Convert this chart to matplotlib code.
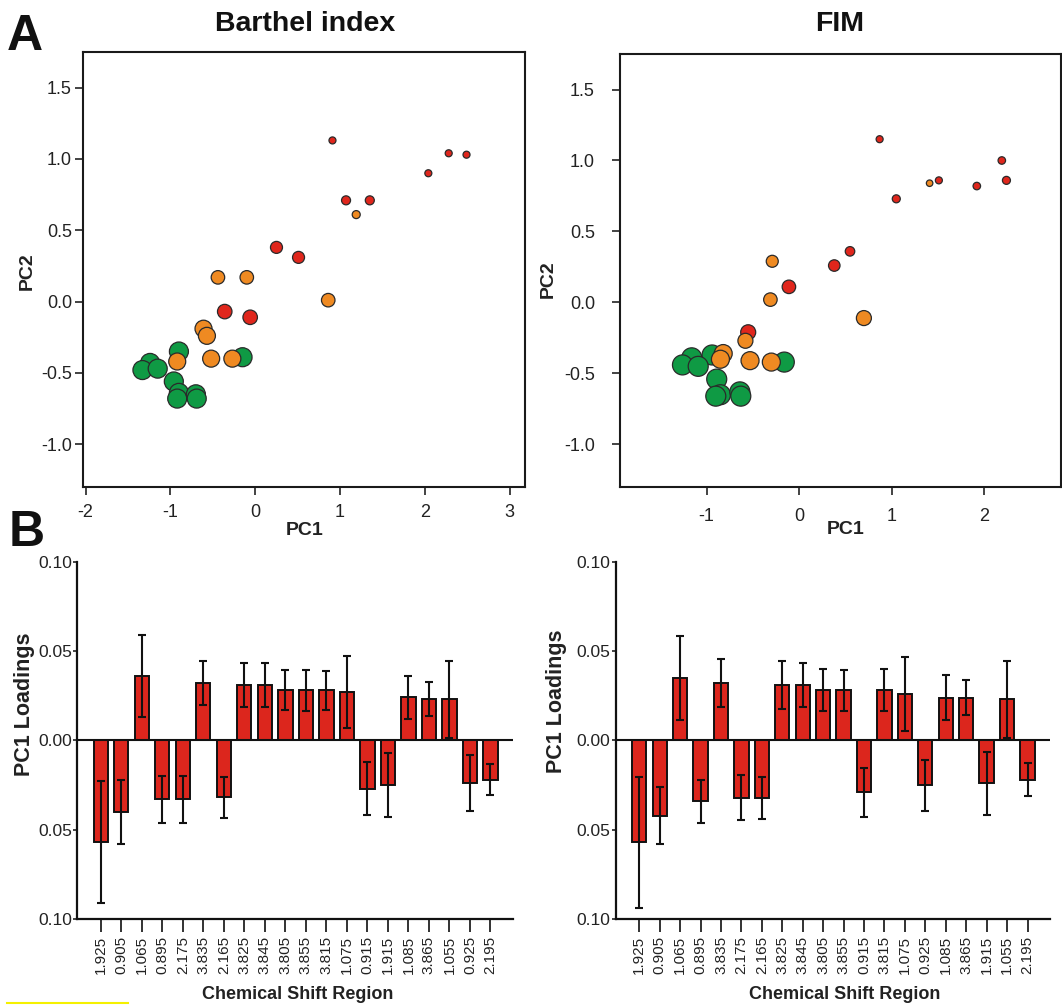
import matplotlib
matplotlib.use("Agg")
import matplotlib.pyplot as plt
from matplotlib.lines import Line2D

plt.rcParams["font.family"] = ["Liberation Sans", "DejaVu Sans"]

# ---- panel A: PCA scores (group 0 = green, 1 = orange, 2 = red) ----
barthel_pc1 = [0.91, 2.28, 2.49, 2.04, 1.07, 1.35, 1.19, 0.25, 0.51,
               -0.44, -0.10, 0.86, -0.36, -0.06, -0.61, -0.57, -0.52, -0.27, -0.92,
               -0.15, -0.90, -1.24, -1.33, -1.15, -0.96, -0.90, -0.92, -0.70, -0.69]
barthel_pc2 = [1.13, 1.04, 1.03, 0.90, 0.71, 0.71, 0.61, 0.38, 0.31,
               0.17, 0.17, 0.01, -0.07, -0.11, -0.19, -0.24, -0.40, -0.40, -0.42,
               -0.39, -0.35, -0.43, -0.48, -0.47, -0.56, -0.64, -0.68, -0.65, -0.68]
barthel_grp = [2, 2, 2, 2, 2, 2, 1, 2, 2,
               1, 1, 1, 2, 2, 1, 1, 1, 1, 1,
               0, 0, 0, 0, 0, 0, 0, 0, 0, 0]
barthel_size = [7, 7, 7, 7, 9, 9, 8, 12, 12,
                13.5, 13.5, 13.5, 14.5, 14.5, 17, 17, 17, 17, 17,
                19, 19, 19, 19, 19, 19, 19, 19, 19, 19]

fim_pc1 = [0.87, 2.19, 1.51, 1.41, 1.92, 2.24, 1.05, 0.55, 0.38, -0.11,
           -0.29, -0.31, 0.70, -0.55, -0.58, -0.82, -0.85, -0.53, -0.30,
           -0.16, -1.16, -0.94, -1.26, -1.09, -0.89, -0.85, -0.90, -0.64, -0.63]
fim_pc2 = [1.15, 1.00, 0.86, 0.84, 0.82, 0.86, 0.73, 0.36, 0.26, 0.11,
           0.29, 0.02, -0.11, -0.21, -0.27, -0.36, -0.40, -0.41, -0.42,
           -0.42, -0.39, -0.37, -0.44, -0.45, -0.54, -0.65, -0.66, -0.63, -0.66]
fim_grp = [2, 2, 2, 1, 2, 2, 2, 2, 2, 2,
           1, 1, 1, 2, 1, 1, 1, 1, 1,
           0, 0, 0, 0, 0, 0, 0, 0, 0, 0]
fim_size = [7, 7.5, 7, 6.5, 7.5, 8, 8, 9.5, 11.5, 13.5,
            12, 13.5, 15, 15, 15, 18, 18, 18, 18,
            20, 20, 20, 20, 20, 20, 20, 20, 20, 20]

# ---- panel B: PC1 loadings ----
barthel_regions = ["1.925", "0.905", "1.065", "0.895", "2.175", "3.835", "2.165",
                   "3.825", "3.845", "3.805", "3.855", "3.815", "1.075", "0.915",
                   "1.915", "1.085", "3.865", "1.055", "0.925", "2.195"]
barthel_load = [-0.057, -0.040, 0.036, -0.033, -0.033, 0.032, -0.032, 0.031,
                0.031, 0.028, 0.028, 0.028, 0.027, -0.027, -0.025, 0.024,
                0.023, 0.023, -0.024, -0.022]
barthel_err = [0.034, 0.018, 0.023, 0.013, 0.013, 0.0124, 0.0116, 0.0125,
               0.0124, 0.0113, 0.0114, 0.011, 0.020, 0.015, 0.018, 0.012,
               0.0095, 0.0216, 0.0157, 0.0087]

fim_regions = ["1.925", "0.905", "1.065", "0.895", "3.835", "2.175", "2.165",
               "3.825", "3.845", "3.805", "3.855", "0.915", "3.815", "1.075",
               "0.925", "1.085", "3.865", "1.915", "1.055", "2.195"]
fim_load = [-0.057, -0.042, 0.035, -0.034, 0.032, -0.032, -0.032, 0.031,
            0.031, 0.028, 0.028, -0.029, 0.028, 0.026, -0.025, 0.024,
            0.024, -0.024, 0.023, -0.022]
fim_err = [0.0365, 0.016, 0.0237, 0.012, 0.0135, 0.0126, 0.0118, 0.0133,
           0.0124, 0.0117, 0.0115, 0.0137, 0.0117, 0.0206, 0.0142, 0.0127,
           0.0097, 0.0175, 0.0214, 0.0093]

GROUP_COLORS = {0: "#0f9a44", 1: "#ef8a22", 2: "#e0261c"}
DRAW_ORDER = [0, 2, 1]
TXT = "#222222"


def draw_scores(ax, pc1, pc2, grp, size, xlim, xticks, ytick_pad, xtick_pad):
    for g in DRAW_ORDER:
        idx = [i for i, v in enumerate(grp) if v == g]
        ax.scatter([pc1[i] for i in idx], [pc2[i] for i in idx],
                   s=[(size[i] * 0.72) ** 2 for i in idx],
                   c=GROUP_COLORS[g], edgecolors="#2a2a2a", linewidths=0.9,
                   zorder=3)
    ax.set_xlim(*xlim)
    ax.set_ylim(-1.3, 1.75)
    ax.set_xticks(xticks)
    ax.set_xticklabels([str(t) for t in xticks])
    ax.set_yticks([-1.0, -0.5, 0.0, 0.5, 1.0, 1.5])
    ax.set_yticklabels(["-1.0", "-0.5", "0.0", "0.5", "1.0", "1.5"])
    for sp in ax.spines.values():
        sp.set_linewidth(1.5)
        sp.set_color("#1a1a1a")
    ax.tick_params(axis="y", direction="out", length=6, width=1.2,
                   labelsize=13, pad=ytick_pad, colors=TXT)
    ax.tick_params(axis="x", direction="out", length=6, width=1.2,
                   labelsize=13, pad=xtick_pad, colors=TXT)
    ax.set_xlabel("PC1", fontsize=14, fontweight="bold", color=TXT)
    ax.set_ylabel("PC2", fontsize=14, fontweight="bold", color=TXT)


def draw_loadings(ax, regions, load, err):
    x = list(range(len(regions)))
    ax.bar(x, load, width=0.7, color="#dc261d", edgecolor="#111111",
           linewidth=1.4, zorder=2)
    ax.errorbar(x, load, yerr=err, fmt="none", ecolor="#111111",
                elinewidth=1.5, capsize=3, capthick=1.5, zorder=3)
    ax.axhline(0, color="#111111", lw=1.5, zorder=4)
    ax.set_xlim(-1.14, 20.1)
    ax.set_ylim(-0.10, 0.10)
    ax.set_yticks([-0.10, -0.05, 0.0, 0.05, 0.10])
    ax.set_yticklabels(["0.10", "0.05", "0.00", "0.05", "0.10"])
    ax.set_xticks(x)
    ax.set_xticklabels(regions, rotation=90)
    ax.spines["top"].set_visible(False)
    ax.spines["right"].set_visible(False)
    for sp in ("left", "bottom"):
        ax.spines[sp].set_linewidth(1.6)
        ax.spines[sp].set_color("#111111")
    ax.tick_params(axis="y", direction="out", length=3, width=1.2,
                   labelsize=12.5, pad=1, colors=TXT)
    ax.tick_params(axis="x", direction="out", length=9, width=1.3,
                   labelsize=11, pad=3, colors=TXT)
    ax.set_xlabel("Chemical Shift Region", fontsize=13, fontweight="bold",
                  color=TXT)
    ax.set_ylabel("PC1 Loadings", fontsize=15.5, fontweight="bold", color=TXT)


fig = plt.figure(figsize=(10.62, 10.06), dpi=100)

ax1 = fig.add_axes([0.0782, 0.5159, 0.4162, 0.4324])
draw_scores(ax1, barthel_pc1, barthel_pc2, barthel_grp, barthel_size,
            (-2.03, 3.18), [-2, -1, 0, 1, 2, 3], 2, 6)
ax1.xaxis.set_label_coords(0.502, -0.099)
ax1.yaxis.set_label_coords(-0.127, 0.495)

ax2 = fig.add_axes([0.5838, 0.5159, 0.4153, 0.4304])
draw_scores(ax2, fim_pc1, fim_pc2, fim_grp, fim_size,
            (-1.935, 2.83), [-1, 0, 1, 2], 12, 9)
ax2.xaxis.set_label_coords(0.512, -0.099)
ax2.yaxis.set_label_coords(-0.163, 0.48)

for ax in (ax1, ax2):
    ax.xaxis.label.set_va("center")
    ax.yaxis.label.set_va("center")

ax3 = fig.add_axes([0.0728, 0.0865, 0.4103, 0.3552])
draw_loadings(ax3, barthel_regions, barthel_load, barthel_err)
ax3.xaxis.set_label_coords(0.505, -0.21)
ax3.yaxis.set_label_coords(-0.122, 0.60)

ax4 = fig.add_axes([0.5800, 0.0862, 0.4087, 0.3555])
draw_loadings(ax4, fim_regions, fim_load, fim_err)
ax4.xaxis.set_label_coords(0.528, -0.21)
ax4.yaxis.set_label_coords(-0.138, 0.61)

for ax in (ax3, ax4):
    ax.xaxis.label.set_va("center")
    ax.yaxis.label.set_va("center")

# titles and panel letters
fig.text(0.287, 0.976, "Barthel index", fontsize=20.5, fontweight="bold",
         ha="center", va="center", color="#111111")
fig.text(0.791, 0.976, "FIM", fontsize=20.5, fontweight="bold",
         ha="center", va="center", color="#111111")
fig.text(0.006, 0.986, "A", fontsize=36, fontweight="bold",
         ha="left", va="top", color="#111111")
fig.text(0.008, 0.493, "B", fontsize=36, fontweight="bold",
         ha="left", va="top", color="#111111")

# stray highlight mark at the bottom left
fig.add_artist(Line2D([7 / 1062, 128 / 1062], [0.0025, 0.0025],
                      transform=fig.transFigure, color="#f4f000", lw=1.5))

fig.savefig("out.png", dpi=100)
